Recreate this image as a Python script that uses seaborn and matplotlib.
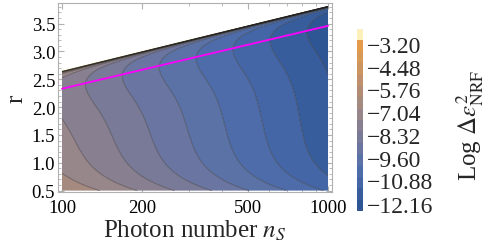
import numpy as np
import seaborn as sns
import matplotlib
matplotlib.use("Agg")
import matplotlib.pyplot as plt
from matplotlib.colors import LinearSegmentedColormap
from matplotlib.ticker import LogLocator, FixedLocator, FixedFormatter, NullFormatter, MultipleLocator

# values
n_ends = [100, 1000]              # photon number range
r_edge = [2.66, 3.82]             # upper edge of the valid region
r_best = [2.33, 3.46]             # magenta line (optimal r)
x_ticks = [100, 200, 500, 1000]
y_ticks = [0.5, 1.0, 1.5, 2.0, 2.5, 3.0, 3.5]
cbar_ticks = [-3.20, -4.48, -5.76, -7.04, -8.32, -9.60, -10.88, -12.16]
f_min, f_max = -12.49, -2.35      # colour bar range
level_top, level_step = -3.0, 0.64

# field model: slope in ln n, shape below / above the optimum, low-r rise
ln_slope = -2.0
f_offset = 1.49
below_amp, below_w = 0.6, 0.5
low_amp, low_r0, low_s = 1.0, 0.5, 0.33
edge_k, edge_p = 0.04, 1.2

# band colours (value -> colour)
cmap_vals = [-12.49, -11.0, -10.0, -9.0, -8.0, -7.0, -5.8, -4.5, -3.3]
cmap_cols = ["#2a5290", "#4466a6", "#5470aa", "#6e76a0", "#837d92", "#9b8888",
             "#b48c74", "#cd965f", "#e49b4b"]
top_band_col = "#fdf1bb"

sns.set_style("ticks")
plt.rcParams["font.family"] = ["Liberation Serif", "DejaVu Serif"]
plt.rcParams["mathtext.fontset"] = "stix"


def line_at(n, ends):
    t = np.log10(np.asarray(n) / n_ends[0]) / np.log10(n_ends[1] / n_ends[0])
    return ends[0] + (ends[1] - ends[0]) * t


n = np.logspace(np.log10(n_ends[0]), np.log10(n_ends[1]), 500)
r = np.linspace(0.5, 3.9, 900)
N, R = np.meshgrid(n, r)
rb = line_at(N, r_edge)
ro = line_at(N, r_best)
u = np.clip(ro - R, 0, None)
d = rb - R
D = rb - ro
F = ln_slope * np.log(N) + f_offset
F = F + below_amp * u ** 2 / (below_w + u ** 2)
F = F + low_amp * np.exp(-(R - low_r0) / low_s)
with np.errstate(divide="ignore", invalid="ignore"):
    edge = edge_k * np.clip(1 / np.where(d > 0, d, np.nan) - 1 / D, 0, None) ** edge_p
F = F + np.nan_to_num(edge, nan=0.0)
F = np.where(d > 0, np.minimum(F, f_max - 0.01), np.nan)

levels = [f_min] + [level_top - level_step * k for k in range(14, -1, -1)] + [f_max]
mids = [(a + b) / 2 for a, b in zip(levels[:-1], levels[1:])]
cm = LinearSegmentedColormap.from_list(
    "bands", [((v - cmap_vals[0]) / (cmap_vals[-1] - cmap_vals[0]), c)
              for v, c in zip(cmap_vals, cmap_cols)])
band_cols = [cm(np.clip((m - cmap_vals[0]) / (cmap_vals[-1] - cmap_vals[0]), 0, 1))
             for m in mids[:-1]] + [top_band_col]

fig = plt.figure(figsize=(4.86, 2.51), dpi=100)
ax = fig.add_axes([58 / 486, 58 / 251, 274 / 486, 189 / 251])
cax = fig.add_axes([357 / 486, 39 / 251, 6 / 486, 182 / 251])

cs = ax.contourf(N, R, F, levels=levels, colors=band_cols, antialiased=True)
ax.contour(N, R, F, levels=levels[1:-1], colors="#202020", linewidths=0.6,
           alpha=0.5, linestyles="solid")
sns.lineplot(x=n_ends, y=r_best, ax=ax, color="#ff00ff", lw=1.3)

ax.set_xscale("log")
ax.set_xlim(96.6, 1035)
ax.set_ylim(0.475, 3.87)
ax.xaxis.set_major_locator(FixedLocator(x_ticks))
ax.xaxis.set_major_formatter(FixedFormatter([str(t) for t in x_ticks]))
ax.xaxis.set_minor_locator(LogLocator(base=10, subs=np.arange(1, 10) * 0.1, numticks=20))
ax.xaxis.set_minor_formatter(NullFormatter())
ax.yaxis.set_major_locator(FixedLocator(y_ticks))
ax.yaxis.set_minor_locator(MultipleLocator(0.1))
ax.tick_params(which="both", direction="in", top=True, right=True, color="#b0b0b0",
               labelsize=13.5, labelcolor="black")
ax.tick_params(axis="x", pad=5)
ax.tick_params(axis="y", pad=2)
ax.tick_params(which="major", length=4)
ax.tick_params(which="minor", length=2)
for s in ax.spines.values():
    s.set_color("#b0b0b0")
    s.set_linewidth(0.8)
ax.set_xlabel("Photon number $n_S$", fontsize=18, labelpad=1)
ax.set_ylabel("r", fontsize=18, rotation=90, labelpad=3)

cb = fig.colorbar(cs, cax=cax, ticks=cbar_ticks)
cb.outline.set_visible(False)
cb.ax.tick_params(length=0, labelsize=17, pad=3)
cb.ax.set_yticklabels(["\u2212%.2f" % abs(t) for t in cbar_ticks])
cb.ax.set_ylim(f_min, f_max)
fig.text(470 / 486, 0.5, r"Log $\Delta\epsilon^{2}_{\rm NRF}$", rotation=90,
         ha="center", va="center", fontsize=18)

fig.savefig("out.png", dpi=100)
